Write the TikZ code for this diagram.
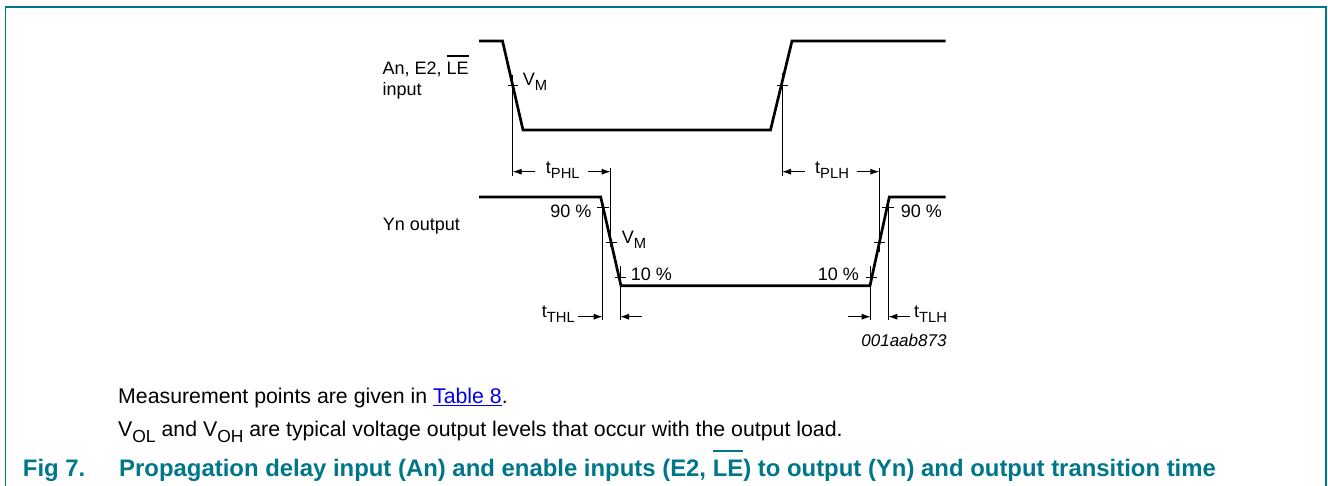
\documentclass[tikz,border=0pt]{standalone}
\usepackage{fontspec}
\setmainfont{Liberation Sans}
\usetikzlibrary{arrows.meta}
\definecolor{nxpteal}{RGB}{0,118,138}
\definecolor{linkblue}{RGB}{0,0,238}
\newcommand\lo[1]{\raisebox{-0.27em}{\scalebox{0.82}{#1}}}
\newcommand\ovl[1]{\leavevmode\vbox{\hrule height 0.09em\kern 0.33em\hbox{#1}}}
\begin{document}
\begin{tikzpicture}[x=1pt,y=-1pt,
  wave/.style={line width=2.7pt, line join=miter},
  thinline/.style={line width=0.9pt},
  dimarrow/.style={line width=0.9pt,-{Latex[length=9pt,width=6pt]}},
  lbl/.style={inner sep=0pt, anchor=base west, font=\fontsize{18}{20}\selectfont},
  lble/.style={lbl, anchor=base east},
  body/.style={inner sep=0pt, anchor=base west, font=\fontsize{21.3}{24}\selectfont},
  capt/.style={inner sep=0pt, anchor=base west, text=nxpteal, font=\fontsize{23.9}{28}\selectfont\bfseries}]
\useasboundingbox (0,0) rectangle (1328,486);
% frame
\draw[nxpteal, line width=1.5pt] (5.3,486) -- (5.3,7) -- (1326,7) -- (1326,486);
% waveform points
\coordinate (i0) at (479,41);  \coordinate (i1) at (502.5,41);
\coordinate (i2) at (523,130); \coordinate (i3) at (770.5,130);
\coordinate (i4) at (792,41);  \coordinate (i5) at (945.5,41);
\coordinate (o0) at (479,197);   \coordinate (o1) at (600.7,197);
\coordinate (o2) at (621,285.7); \coordinate (o3) at (870,285.7);
\coordinate (o4) at (889.3,197); \coordinate (o5) at (945.7,197);
\draw[wave] (i0) -- (i1) -- (i2) -- (i3) -- (i4) -- (i5);
\draw[wave] (o0) -- (o1) -- (o2) -- (o3) -- (o4) -- (o5);
% ticks
\coordinate (t1a) at (507.5,85);    \coordinate (t1b) at (518,85);
\coordinate (t2a) at (776.7,85);    \coordinate (t2b) at (787.7,85);
\coordinate (t3a) at (597,207.3);   \coordinate (t3b) at (608.5,207.3);
\coordinate (t4a) at (605.5,242);   \coordinate (t4b) at (616.5,242);
\coordinate (t5a) at (615,277);     \coordinate (t5b) at (626,277);
\coordinate (t6a) at (882,207.3);   \coordinate (t6b) at (893.5,207.3);
\coordinate (t7a) at (874,242.3);   \coordinate (t7b) at (885,242.3);
\coordinate (t8a) at (866,277.7);   \coordinate (t8b) at (877,277.7);
\foreach \k in {1,...,8} {\draw[thinline] (t\k a) -- (t\k b);}
% vertical reference lines
\coordinate (v1t) at (512.7,75);  \coordinate (v1b) at (512.7,176);
\coordinate (v2t) at (610.7,168); \coordinate (v2b) at (610.7,247);
\coordinate (v3t) at (602.7,200); \coordinate (v3b) at (602.7,320);
\coordinate (v4t) at (620,266);   \coordinate (v4b) at (620,320);
\coordinate (v5t) at (782,73);    \coordinate (v5b) at (782,176);
\coordinate (v6t) at (879.3,168); \coordinate (v6b) at (879.3,252);
\coordinate (v7t) at (870.7,266); \coordinate (v7b) at (870.7,320);
\coordinate (v8t) at (888.3,200); \coordinate (v8b) at (888.3,320);
\foreach \k in {1,...,8} {\draw[thinline] (v\k t) -- (v\k b);}
% dimension arrows
\coordinate (a1s) at (535,171.7);   \coordinate (a1e) at (512.7,171.7);
\coordinate (a2s) at (588,171.7);   \coordinate (a2e) at (610.7,171.7);
\coordinate (a3s) at (805,171.7);   \coordinate (a3e) at (782,171.7);
\coordinate (a4s) at (856.7,171.7); \coordinate (a4e) at (879.3,171.7);
\coordinate (a5s) at (578,316.7);   \coordinate (a5e) at (602.7,316.7);
\coordinate (a6s) at (641.7,316.7); \coordinate (a6e) at (620,316.7);
\coordinate (a7s) at (848.3,316.7); \coordinate (a7e) at (870.7,316.7);
\coordinate (a8s) at (910,316.7);   \coordinate (a8e) at (888.3,316.7);
\foreach \k in {1,...,8} {\draw[dimarrow] (a\k s) -- (a\k e);}
% labels
\node[lbl] (lin1) at (382.3,75) {An, E2, \ovl{LE}};
\node[lbl] (lin2) at (382.3,96) {input};
\node[lbl] (lvm1) at (522.7,86) {V\lo{M}};
\node[lbl] (ltphl) at (545.7,174) {t\lo{PHL}};
\node[lbl] (ltplh) at (815,174) {t\lo{PLH}};
\node[lbl] (lout) at (382.7,231) {Yn output};
\node[lble] (l90a) at (591.7,217.7) {90 \%};
\node[lbl] (lvm2) at (621.7,244) {V\lo{M}};
\node[lbl] (l10a) at (630.7,281) {10 \%};
\node[lble] (l10b) at (859,281) {10 \%};
\node[lbl] (l90b) at (900.7,217.7) {90 \%};
\node[lbl] (ltthl) at (541.7,318) {t\lo{THL}};
\node[lbl] (lttlh) at (914,318) {t\lo{TLH}};
\node[lble, font=\fontsize{17}{20}\selectfont\itshape] (lcode) at (946.7,346.7) {001aab873};
% body text
\node[body] (b1) at (118,403.3) {Measurement points are given in \textcolor{linkblue}{\underline{Table 8}}.};
\node[body] (b2) at (118,436.7) {V\lo{OL} and V\lo{OH} are typical voltage output levels that occur with the output load.};
\node[capt] (fig) at (22.7,476.7) {Fig 7.};
\node[capt] (cap) at (119,476.7) {Propagation delay input (An) and enable inputs (E2, \ovl{LE}) to output (Yn) and output transition time};
\end{tikzpicture}
\end{document}
